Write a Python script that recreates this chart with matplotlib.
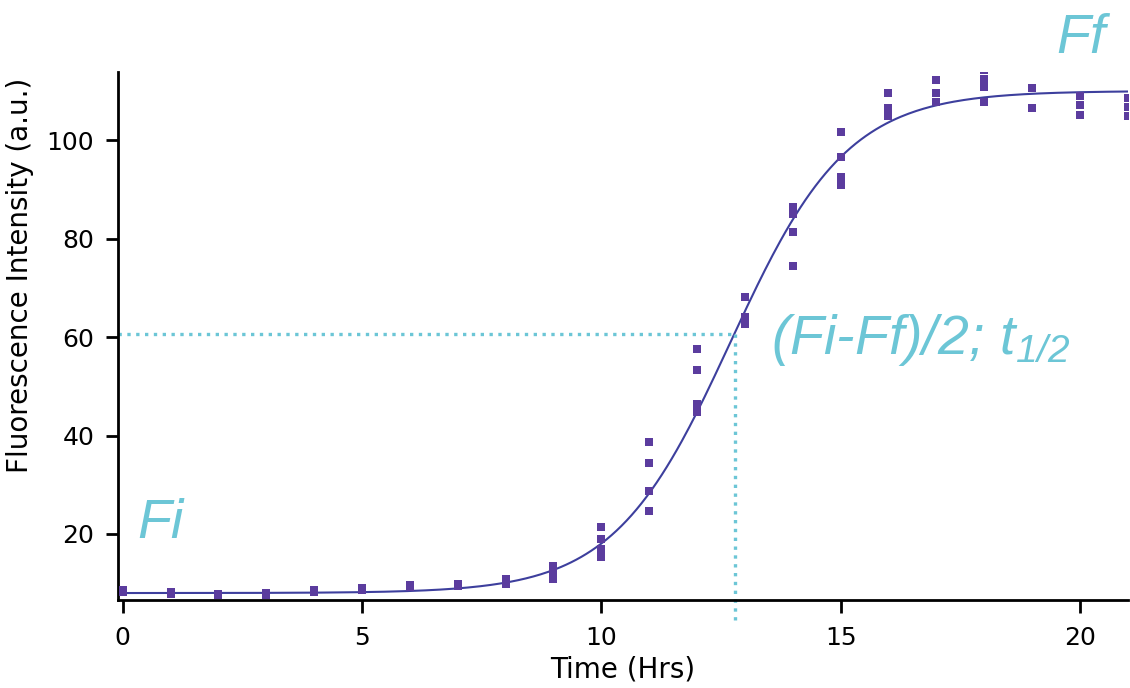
import matplotlib.pyplot as plt
import numpy as np

# replicate readings per time point (hours, a.u.)
times = [0, 1, 2, 3, 4, 5, 6, 7, 8, 9, 10, 11, 12, 13, 14, 15, 16, 17, 18, 19, 20, 21]
readings = [
    [8.6, 8.3],
    [8.2, 7.9],
    [7.9, 7.6],
    [8.1, 7.7],
    [8.7, 8.2],
    [9.0, 8.6],
    [9.6, 9.2],
    [9.8, 9.4],
    [10.9, 10.3, 9.8],
    [13.5, 12.5, 11.6, 10.9],
    [21.4, 19.0, 17.0, 15.3],
    [38.6, 34.4, 28.7, 24.6],
    [57.5, 53.4, 46.5, 44.7],
    [68.2, 64.0, 62.6],
    [86.4, 85.0, 81.4, 74.4],
    [101.6, 96.6, 92.6, 90.8],
    [109.5, 106.6, 105.0],
    [112.3, 109.6, 107.8],
    [114.3, 112.4, 110.8, 107.7],
    [110.5, 106.5],
    [109.0, 107.2, 105.2],
    [108.6, 106.8, 105.0],
]

# sigmoid fit parameters
f_i = 8.0
f_f = 110.0
t_half = 12.7
width = 1.22

half_value = 60.7
half_time = 12.8

marker_color = '#5b3c9e'
line_color = '#3d3f9d'
note_color = '#6cc6d6'

plt.rcParams['font.family'] = ['DejaVu Sans']
plt.rcParams['mathtext.fontset'] = 'custom'
plt.rcParams['mathtext.it'] = 'Liberation Sans:italic'
plt.rcParams['mathtext.rm'] = 'Liberation Sans:italic'

fig = plt.figure(figsize=(11.3, 6.88), dpi=100)
ax = fig.add_axes([0.1044, 0.128, 0.8936, 0.767])

xs, ys = [], []
for t, vals in zip(times, readings):
    for v in vals:
        xs.append(t)
        ys.append(v)
ax.plot(xs, ys, 's', color=marker_color, ms=5.8, mew=0, zorder=3)

t_fit = np.linspace(0, 21, 400)
y_fit = f_i + (f_f - f_i) / (1 + np.exp((t_half - t_fit) / width))
ax.plot(t_fit, y_fit, color=line_color, lw=1.5, zorder=2)

ax.plot([-0.1, half_time], [half_value, half_value], ':', color=note_color, lw=2.4, clip_on=False)
ax.plot([half_time, half_time], [half_value, 2.2], ':', color=note_color, lw=2.4, clip_on=False)

note_font = dict(family='Liberation Sans', style='italic', color=note_color, fontsize=40)
ax.text(0.3, 19.2, 'Fi', va='baseline', ha='left', **note_font)
ax.text(19.5, 117.8, 'Ff', va='baseline', ha='left', clip_on=False, **note_font)
ax.text(13.55, 56.6, r'(Fi-Ff)/2; t$_{1/2}$', va='baseline', ha='left', **note_font)

ax.set_xlim(-0.1, 21.0)
ax.set_ylim(6.6, 113.8)
ax.set_xticks([0, 5, 10, 15, 20])
ax.set_yticks([20, 40, 60, 80, 100])
ax.spines['top'].set_visible(False)
ax.spines['right'].set_visible(False)
ax.spines['left'].set_linewidth(2)
ax.spines['bottom'].set_linewidth(2)
ax.tick_params(direction='out', length=9, width=2, labelsize=18)
ax.tick_params(axis='x', pad=10)
ax.tick_params(axis='y', pad=8)

ax.set_xlabel('Time (Hrs)', fontsize=20, labelpad=4)
ax.set_ylabel('Fluorescence Intensity (a.u.)', fontsize=20)
ax.yaxis.set_label_coords(-0.083, 0.615)

fig.savefig('out.png', dpi=100)
